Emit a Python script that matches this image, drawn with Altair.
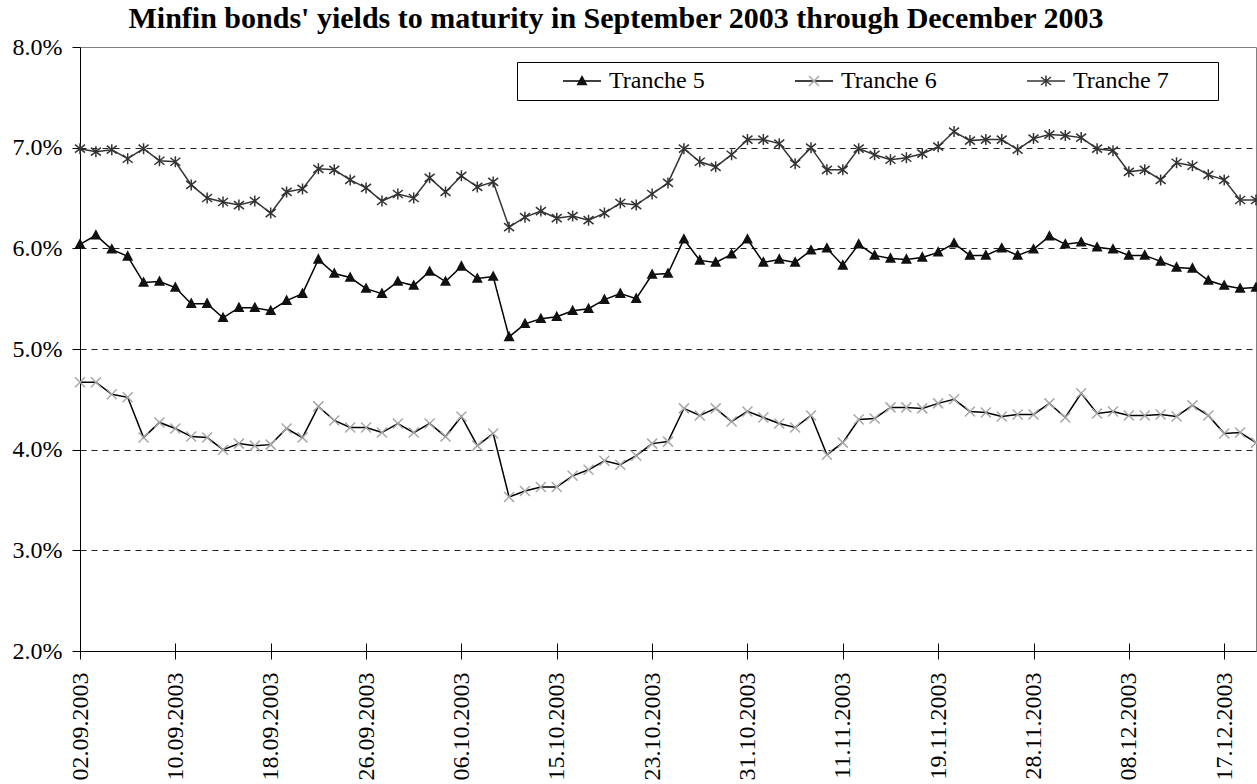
import altair as alt
import pandas as pd

# ---- data ----
dates = [
    "02.09.2003", "03.09.2003", "04.09.2003", "05.09.2003", "08.09.2003", "09.09.2003",
    "10.09.2003", "11.09.2003", "12.09.2003", "15.09.2003", "16.09.2003", "17.09.2003",
    "18.09.2003", "19.09.2003", "22.09.2003", "23.09.2003", "24.09.2003", "25.09.2003",
    "26.09.2003", "29.09.2003", "30.09.2003", "01.10.2003", "02.10.2003", "03.10.2003",
    "06.10.2003", "07.10.2003", "08.10.2003", "09.10.2003", "10.10.2003", "14.10.2003",
    "15.10.2003", "16.10.2003", "17.10.2003", "20.10.2003", "21.10.2003", "22.10.2003",
    "23.10.2003", "24.10.2003", "27.10.2003", "28.10.2003", "29.10.2003", "30.10.2003",
    "31.10.2003", "03.11.2003", "04.11.2003", "05.11.2003", "06.11.2003", "10.11.2003",
    "11.11.2003", "12.11.2003", "13.11.2003", "14.11.2003", "17.11.2003", "18.11.2003",
    "19.11.2003", "20.11.2003", "21.11.2003", "24.11.2003", "25.11.2003", "26.11.2003",
    "28.11.2003", "01.12.2003", "02.12.2003", "03.12.2003", "04.12.2003", "05.12.2003",
    "08.12.2003", "09.12.2003", "10.12.2003", "11.12.2003", "15.12.2003", "16.12.2003",
    "17.12.2003", "18.12.2003", "19.12.2003",
]

tranche5 = [
    6.04, 6.13, 5.99, 5.92, 5.66, 5.67, 5.61, 5.45, 5.45, 5.31, 5.41, 5.41, 5.38, 5.48, 5.55,
    5.89, 5.75, 5.71, 5.60, 5.55, 5.67, 5.63, 5.77, 5.67, 5.82, 5.70, 5.72, 5.12, 5.25, 5.30,
    5.32, 5.38, 5.40, 5.49, 5.55, 5.50, 5.74, 5.75, 6.09, 5.88, 5.86, 5.94, 6.09, 5.86, 5.89,
    5.86, 5.98, 6.00, 5.83, 6.04, 5.93, 5.90, 5.89, 5.91, 5.96, 6.05, 5.93, 5.93, 6.00, 5.93,
    5.99, 6.12, 6.04, 6.06, 6.01, 5.99, 5.93, 5.93, 5.87, 5.81, 5.80, 5.68, 5.63, 5.60, 5.61,
]

tranche6 = [
    4.67, 4.67, 4.55, 4.52, 4.12, 4.27, 4.21, 4.13, 4.12, 4.00, 4.06, 4.04, 4.05, 4.21, 4.12,
    4.43, 4.29, 4.22, 4.22, 4.17, 4.26, 4.17, 4.26, 4.13, 4.33, 4.04, 4.16, 3.53, 3.59, 3.63,
    3.63, 3.74, 3.80, 3.89, 3.85, 3.94, 4.06, 4.08, 4.41, 4.34, 4.41, 4.28, 4.38, 4.32, 4.26,
    4.22, 4.34, 3.95, 4.07, 4.30, 4.31, 4.42, 4.42, 4.41, 4.46, 4.50, 4.38, 4.37, 4.33, 4.35,
    4.35, 4.46, 4.32, 4.56, 4.36, 4.38, 4.34, 4.34, 4.35, 4.33, 4.44, 4.34, 4.16, 4.17, 4.07,
]

tranche7 = [
    6.99, 6.96, 6.98, 6.89, 6.99, 6.87, 6.86, 6.63, 6.50, 6.46, 6.43, 6.47, 6.35, 6.56, 6.59,
    6.79, 6.78, 6.68, 6.60, 6.47, 6.54, 6.50, 6.70, 6.56, 6.72, 6.61, 6.66, 6.21, 6.31, 6.37,
    6.30, 6.32, 6.28, 6.35, 6.45, 6.43, 6.54, 6.65, 6.99, 6.86, 6.81, 6.93, 7.08, 7.08, 7.04,
    6.84, 7.00, 6.78, 6.78, 6.99, 6.93, 6.88, 6.90, 6.94, 7.01, 7.16, 7.07, 7.08, 7.08, 6.98,
    7.09, 7.13, 7.12, 7.10, 6.99, 6.97, 6.76, 6.78, 6.68, 6.85, 6.82, 6.73, 6.68, 6.48, 6.48,
]

series_names = ["Tranche 5", "Tranche 6", "Tranche 7"]
axis_dates = dates[::6]
y_ticks = [2, 3, 4, 5, 6, 7, 8]

rows = []
for name, vals in zip(series_names, [tranche5, tranche6, tranche7]):
    for i, (d, v) in enumerate(zip(dates, vals)):
        rows.append({"date": d, "idx": i, "series": name, "marker": name, "value": v})
df = pd.DataFrame(rows)

FONT = "Liberation Serif"
NB = "\u00a0"
FS = 24

# ---- styling ----
line_colors = ["#000000", "#000000", "#333333"]
marker_fill = ["#111111", "transparent", "transparent"]
marker_stroke = ["#111111", "#a8a8a8", "#333333"]
# the leading moves only widen the symbol's box (nothing drawn), so that
# the legend entries of lines and markers get the same layout
EXT = "M-3.8,0M32.4,0"
marker_shapes = [
    EXT + "M0,-0.9L0.85,0.7L-0.85,0.7Z",
    EXT + "M-1,-1L1,1M-1,1L1,-1",
    EXT + "M-1,-0.8L1,0.8M-1,0.8L1,-0.8M0,-1.1L0,1.1",
]

common_legend = dict(
    orient="none",
    legendX=437,
    legendY=15,
    direction="horizontal",
    symbolSize=100,
    symbolStrokeWidth=1.5,
    labelFont=FONT,
    labelFontSize=FS,
    labelColor="black",
    labelOffset=15,
    columnPadding=45,
    padding=7,
    title=NB,
    titleOrient="left",
    titlePadding=46,
    titleFont=FONT,
    titleFontSize=11,
)

legend_lines = alt.Legend(strokeColor="black", symbolType="M-3.8,0L3.8,0M32.4,0", **common_legend)
legend_marks = alt.Legend(labelExpr="''", **common_legend)

x_enc = alt.X(
    "date:O",
    sort=dates,
    scale=alt.Scale(type="point", padding=0),
    axis=alt.Axis(
        values=axis_dates,
        title=None,
        labelAngle=-90,
        labelFont=FONT,
        labelFontSize=FS,
        labelColor="black",
        labelPadding=13,
        domain=False,
        offset=-8,
        tickSize=16,
        tickColor="black",
        tickWidth=1,
        grid=False,
    ),
)

y_enc = alt.Y(
    "value:Q",
    scale=alt.Scale(domain=[2, 8], nice=False, zero=False),
    axis=alt.Axis(
        values=y_ticks,
        title=None,
        labelExpr="format(datum.value, '.1f') + '%'",
        labelFont=FONT,
        labelFontSize=FS,
        labelColor="black",
        labelPadding=10,
        tickSize=8,
        tickColor="black",
        tickWidth=1,
        domainColor="black",
        domainWidth=1,
        grid=True,
        gridColor={"condition": {"test": "datum.value == 2", "value": "black"}, "value": "#222222"},
        gridDash={"condition": {"test": "datum.value == 2", "value": []}, "value": [6, 5]},
        gridOpacity={"condition": {"test": "datum.value == 8", "value": 0}, "value": 1},
        gridWidth=1,
    ),
)

lines = alt.Chart(df).mark_line(strokeWidth=1.5).encode(
    x=x_enc,
    y=y_enc,
    color=alt.Color(
        "series:N",
        scale=alt.Scale(range=line_colors),
        legend=legend_lines,
    ),
    order=alt.Order("idx:Q"),
)

points = alt.Chart(df).mark_point(size=100, opacity=1, strokeWidth=1.5).encode(
    x=x_enc,
    y=y_enc,
    shape=alt.Shape("marker:N", scale=alt.Scale(range=marker_shapes), legend=legend_marks),
    fill=alt.Fill("marker:N", scale=alt.Scale(range=marker_fill), legend=legend_marks),
    stroke=alt.Stroke("marker:N", scale=alt.Scale(range=marker_stroke), legend=legend_marks),
)

chart = (
    alt.layer(lines, points)
    .properties(
        width=1176,
        height=604,
        padding={"left": 80, "top": 47, "right": 1, "bottom": 133},
        autosize="none",
        background="white",
        title=alt.TitleParams(
            text="Minfin bonds' yields to maturity in September 2003 through December 2003",
            font=FONT,
            fontSize=30,
            fontWeight="bold",
            color="black",
            anchor="middle",
            frame="group",
            offset=1,
            dx=-52,
        ),
    )
    .configure(font=FONT)
    .configure_axis(labelFont=FONT)
    .configure_legend(labelFont=FONT)
    .configure_view(stroke="#808080", strokeWidth=1)
)

chart.save("out.html", embed_options={"renderer": "svg", "actions": False})
